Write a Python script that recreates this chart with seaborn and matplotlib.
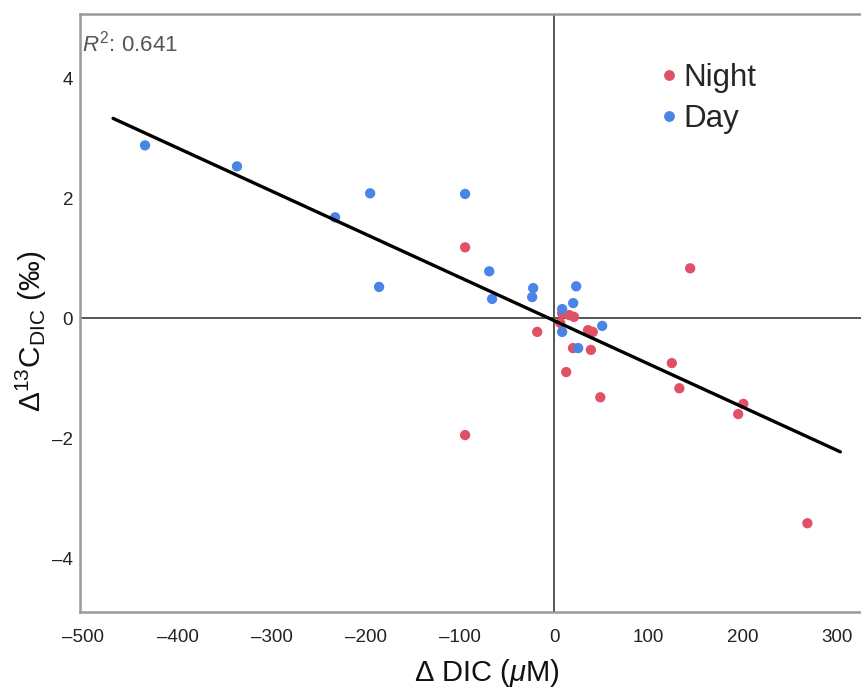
import numpy as np
import pandas as pd
import matplotlib
matplotlib.use("Agg")
import matplotlib.pyplot as plt
import seaborn as sns

# Day samples: change in DIC (µM) and change in d13C of DIC (permil)
day_dic = [-434.6, -336.9, -232.7, -195.5, -94.6, -186.0, -69.0, -65.9, -22.3, -23.4,
           23.4, 20.2, 8.5, 51.0, 8.5, 25.5]
day_d13c = [2.88, 2.53, 1.68, 2.08, 2.07, 0.52, 0.78, 0.32, 0.50, 0.35,
            0.53, 0.25, 0.15, -0.13, -0.23, -0.50]

# Night samples
night_dic = [8.5, 21.0, 16.0, 6.4, -18.0, 36.0, 41.0, 20.0, 39.0, 12.8, 49.0,
             -94.6, -94.6, 144.5, 125.0, 133.0, 201.0, 195.5, 269.0]
night_d13c = [0.08, 0.02, 0.05, -0.08, -0.23, -0.20, -0.23, -0.50, -0.53, -0.90, -1.32,
              1.18, -1.95, 0.83, -0.75, -1.17, -1.43, -1.60, -3.42]

# Linear regression line endpoints (both groups pooled)
fit_dic = [-468.6, 304.0]
fit_d13c = [3.33, -2.23]
r_squared = 0.641

x_ticks = [-500, -400, -300, -200, -100, 0, 100, 200, 300]
y_ticks = [-4, -2, 0, 2, 4]

sns.set_theme(style="white")
plt.rcParams["font.family"] = ["Liberation Sans", "DejaVu Sans"]
plt.rcParams["mathtext.fontset"] = "custom"
plt.rcParams["mathtext.rm"] = "Liberation Sans"
plt.rcParams["mathtext.it"] = "Liberation Sans:italic"
plt.rcParams["mathtext.bf"] = "Liberation Sans:bold"

df = pd.DataFrame({
    "dic": night_dic + day_dic,
    "d13c": night_d13c + day_d13c,
    "period": ["Night"] * len(night_dic) + ["Day"] * len(day_dic),
})
fit = pd.DataFrame({"dic": fit_dic, "d13c": fit_d13c})

fig = plt.figure(figsize=(8.61, 6.94), dpi=100)
ax = fig.add_axes([80 / 861, 82 / 694, (894 - 80) / 861, (612 - 14) / 694])

ax.axhline(0, color="#555555", lw=1.4, zorder=1)
ax.axvline(0, color="#555555", lw=1.4, zorder=1)

sns.scatterplot(data=df, x="dic", y="d13c", hue="period",
                palette={"Night": "#E05067", "Day": "#4A84E6"},
                s=55, edgecolor="none", ax=ax, zorder=3)
sns.lineplot(data=fit, x="dic", y="d13c", color="black", lw=2.4, ax=ax,
             zorder=4, sort=False)

ax.set_xlim(-503.7, 361)
ax.set_ylim(-4.9, 5.07)
ax.set_xticks(x_ticks)
ax.set_yticks(y_ticks)
ax.set_xticklabels([f"{t}".replace("-", "\u2013") for t in x_ticks])
ax.set_yticklabels([f"{t}".replace("-", "\u2013") for t in y_ticks])
ax.tick_params(axis="both", length=0, labelsize=13.5, colors="#222222")
ax.tick_params(axis="x", pad=12)
ax.tick_params(axis="y", pad=5)

for sp in ax.spines.values():
    sp.set_color("#9a9a9a")
    sp.set_linewidth(1.8)

ax.set_xlabel("\u0394 DIC ($\\mathit{\u03bc}$M)", fontsize=21, labelpad=8, color="#111111")
ax.set_ylabel("$\\Delta^{13}\\mathrm{C}_{\\mathrm{DIC}}$ (\u2030)", fontsize=21.5,
              color="#111111", va="center")
ax.yaxis.set_label_coords(-0.06, 0.47)

ax.text(0.003, 0.95, "$\\mathit{R}^{2}$: " + f"{r_squared:.3f}", transform=ax.transAxes,
        fontsize=16, color="#555555", ha="left", va="center")

handles, labels = ax.get_legend_handles_labels()
leg = ax.legend(handles, labels, loc="upper left", bbox_to_anchor=(0.714, 0.918),
                frameon=False, fontsize=22.5, handlelength=0.5, handletextpad=0.2,
                labelspacing=0.35, markerscale=1.05, borderaxespad=0, borderpad=0)

fig.savefig("out.png", dpi=100)
